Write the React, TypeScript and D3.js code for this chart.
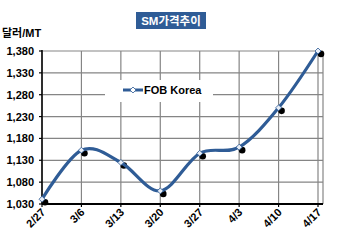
import React from "react";
import * as d3 from "d3";

const categories = ["2/27", "3/6", "3/13", "3/20", "3/27", "4/3", "4/10", "4/17"];
const fobKorea = [1041, 1153, 1125, 1060, 1146, 1160, 1250, 1380];
const yTicks = [1030, 1080, 1130, 1180, 1230, 1280, 1330, 1380];

const W = 350, H = 246;
const plot = { left: 42, right: 323, top: 51, bottom: 204 };
const FONT = "'Liberation Sans', Arial, 'Noto Sans CJK KR', sans-serif";
const BLUE = "#2F5C96";

export default function App() {
  const x = d3.scalePoint<string>().domain(categories).range([plot.left, 318]);
  const y = d3.scaleLinear().domain([1030, 1380]).range([plot.bottom, plot.top]);
  const line = d3
    .line<number>()
    .x((_, i) => x(categories[i]) as number)
    .y((d) => y(d))
    .curve(d3.curveCardinal.tension(0));
  const fmt = d3.format(",");

  return (
    <svg width={W} height={H} style={{ position: "absolute", left: 0, top: 0, background: "#fff" }}>
      {/* title */}
      <rect x={136} y={12} width={70} height={17} fill={BLUE} />
      <text x={171} y={25} textAnchor="middle" fill="#fff" fontFamily={FONT} fontWeight="bold" fontSize={11.5}>
        SM가격추이
      </text>
      <text x={2} y={37} fontFamily={FONT} fontWeight="bold" fontSize={11} fill="#000">
        달러/MT
      </text>

      {/* grid */}
      {yTicks.map((t) => (
        <line key={"h" + t} x1={plot.left} x2={plot.right} y1={y(t)} y2={y(t)} stroke="#858585" strokeWidth={1.2} />
      ))}
      {categories.map((c) => (
        <line key={"v" + c} x1={x(c)} x2={x(c)} y1={plot.top} y2={plot.bottom} stroke="#858585" strokeWidth={1.2} />
      ))}
      <line x1={plot.right} x2={plot.right} y1={plot.top} y2={plot.bottom} stroke="#858585" strokeWidth={1.2} />

      {/* legend box */}
      <rect x={105} y={80} width={108} height={22} fill="#fff" />
      <line x1={123} x2={143} y1={90} y2={90} stroke={BLUE} strokeWidth={3} />
      <path d="M133,87 L136,90 L133,93 L130,90 Z" fill="#fff" stroke={BLUE} strokeWidth={0.8} />
      <text x={144} y={94} fontFamily={FONT} fontWeight="bold" fontSize={11} fill="#000">
        FOB Korea
      </text>

      {/* axes */}
      <line x1={plot.left} x2={plot.left} y1={plot.top - 1} y2={plot.bottom} stroke="#000" strokeWidth={1.5} />
      <line x1={plot.left} x2={plot.right} y1={plot.bottom} y2={plot.bottom} stroke="#000" strokeWidth={2} />
      {yTicks.map((t) => (
        <g key={"yt" + t}>
          <line x1={plot.left - 3} x2={plot.left} y1={y(t)} y2={y(t)} stroke="#000" strokeWidth={1.2} />
          <text x={34} y={y(t) + 4} textAnchor="end" fontFamily={FONT} fontWeight="bold" fontSize={11} fill="#000">
            {fmt(t)}
          </text>
        </g>
      ))}
      {categories.map((c) => (
        <g key={"xt" + c}>
          <line x1={x(c)} x2={x(c)} y1={plot.bottom} y2={plot.bottom + 3} stroke="#000" strokeWidth={1.2} />
          <text
            transform={`translate(${(x(c) as number) + 4},${plot.bottom + 9}) rotate(-45)`}
            textAnchor="end"
            fontFamily={FONT}
            fontWeight="bold"
            fontSize={11}
            fill="#000"
          >
            {c}
          </text>
        </g>
      ))}

      {/* shadow dots */}
      {fobKorea.map((v, i) => (
        <circle key={"s" + i} cx={(x(categories[i]) as number) + 3} cy={y(v) + 3} r={3.3} fill="#000" />
      ))}
      {/* series */}
      <path d={line(fobKorea) || ""} fill="none" stroke={BLUE} strokeWidth={3.2} strokeLinejoin="round" />
      {fobKorea.map((v, i) => {
        const cx = x(categories[i]) as number;
        const cy = y(v);
        return (
          <path key={"m" + i} d={`M${cx},${cy - 3} L${cx + 3},${cy} L${cx},${cy + 3} L${cx - 3},${cy} Z`} fill="#e8eef7" stroke={BLUE} strokeWidth={0.8} />
        );
      })}
    </svg>
  );
}
